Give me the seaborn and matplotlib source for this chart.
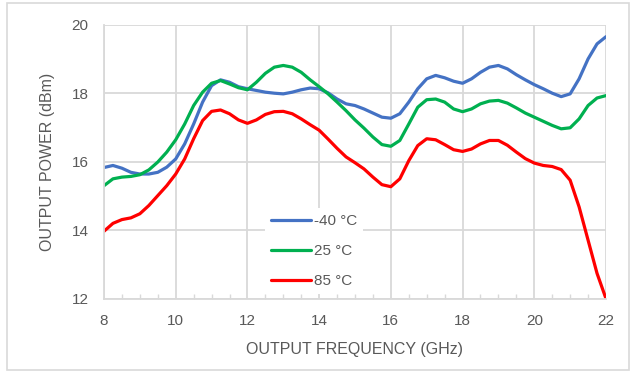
import numpy as np
import pandas as pd
import matplotlib
matplotlib.use("Agg")
import matplotlib.pyplot as plt
import seaborn as sns
from matplotlib.patches import Rectangle

freq = [8.00, 8.25, 8.50, 8.75, 9.00, 9.25, 9.50, 9.75, 10.00, 10.25, 10.50, 10.75,
        11.00, 11.25, 11.50, 11.75, 12.00, 12.25, 12.50, 12.75, 13.00, 13.25, 13.50, 13.75,
        14.00, 14.25, 14.50, 14.75, 15.00, 15.25, 15.50, 15.75, 16.00, 16.25, 16.50, 16.75,
        17.00, 17.25, 17.50, 17.75, 18.00, 18.25, 18.50, 18.75, 19.00, 19.25, 19.50, 19.75,
        20.00, 20.25, 20.50, 20.75, 21.00, 21.25, 21.50, 21.75, 22.00]
p_m40 = [15.83, 15.89, 15.81, 15.69, 15.64, 15.64, 15.69, 15.84, 16.08, 16.52, 17.10, 17.74,
         18.22, 18.39, 18.32, 18.19, 18.13, 18.08, 18.03, 18.00, 17.98, 18.03, 18.10, 18.15,
         18.13, 18.01, 17.83, 17.69, 17.64, 17.54, 17.42, 17.30, 17.27, 17.40, 17.74, 18.13,
         18.42, 18.52, 18.45, 18.35, 18.29, 18.42, 18.61, 18.76, 18.81, 18.71, 18.54, 18.39,
         18.25, 18.13, 18.00, 17.90, 17.98, 18.42, 19.00, 19.44, 19.65]
p_25 = [15.30, 15.50, 15.55, 15.57, 15.62, 15.76, 15.99, 16.28, 16.64, 17.10, 17.64, 18.03,
        18.29, 18.37, 18.27, 18.16, 18.10, 18.32, 18.58, 18.76, 18.81, 18.76, 18.61, 18.39,
        18.19, 17.98, 17.74, 17.49, 17.22, 16.98, 16.72, 16.50, 16.45, 16.62, 17.10, 17.59,
        17.81, 17.83, 17.74, 17.54, 17.46, 17.54, 17.69, 17.77, 17.79, 17.71, 17.57, 17.42,
        17.30, 17.18, 17.06, 16.96, 16.99, 17.25, 17.64, 17.86, 17.93]
p_85 = [13.97, 14.20, 14.31, 14.36, 14.48, 14.72, 15.01, 15.30, 15.64, 16.08, 16.67, 17.20,
        17.47, 17.51, 17.40, 17.22, 17.12, 17.22, 17.38, 17.46, 17.47, 17.40, 17.25, 17.08,
        16.92, 16.66, 16.39, 16.14, 15.97, 15.79, 15.55, 15.33, 15.27, 15.50, 16.03, 16.47,
        16.67, 16.64, 16.50, 16.35, 16.30, 16.37, 16.52, 16.62, 16.62, 16.48, 16.28, 16.09,
        15.96, 15.89, 15.86, 15.77, 15.46, 14.68, 13.71, 12.74, 12.00]
series_names = ["-40 \u00b0C", "25 \u00b0C", "85 \u00b0C"]
colors = ["#4472C4", "#00B050", "#FF0000"]
x_ticks = [8, 10, 12, 14, 16, 18, 20, 22]
y_ticks = [12, 14, 16, 18, 20]

df = pd.concat([
    pd.DataFrame({"freq": freq, "power": vals, "temp": name})
    for name, vals in zip(series_names, [p_m40, p_25, p_85])
])

sns.set_theme(style="white")
plt.rcParams["font.family"] = ["Liberation Sans", "DejaVu Sans"]

fig = plt.figure(figsize=(6.36, 3.73), dpi=100)
ax = fig.add_axes([104 / 636, 1 - 298.7 / 373, (606 - 104) / 636, (298.7 - 24.7) / 373])

sns.lineplot(data=df, x="freq", y="power", hue="temp", palette=dict(zip(series_names, colors)),
             linewidth=2.3, ax=ax, legend=False, sort=False)
for ln in ax.get_lines():
    ln.set_solid_joinstyle("round")
    ln.set_solid_capstyle("round")

grid_c = "#d9d9d9"
ax.set_xlim(8, 22)
ax.set_ylim(12, 20)
ax.set_xticks(x_ticks)
ax.set_yticks(y_ticks)
ax.set_xticks(np.arange(8, 22.01, 0.5), minor=True)
ax.grid(True, which="major", color=grid_c, linewidth=1.3)
ax.set_axisbelow(True)
for s in ["top", "right"]:
    ax.spines[s].set_visible(False)
for s in ["left", "bottom"]:
    ax.spines[s].set_color(grid_c)
    ax.spines[s].set_linewidth(1.3)
ax.tick_params(axis="both", which="major", length=0, labelsize=11, labelcolor="#595959")
ax.tick_params(axis="x", which="major", pad=11)
ax.tick_params(axis="y", which="major", pad=11)
ax.tick_params(axis="x", which="minor", direction="in", length=3.5, width=1, color=grid_c, bottom=True)

ax.set_xlabel("OUTPUT FREQUENCY (GHz)", fontsize=11.5, color="#595959", labelpad=10)
ax.set_ylabel("OUTPUT POWER (dBm)", fontsize=11.5, color="#595959", labelpad=12)

handles = [plt.Line2D([], [], color=c, linewidth=2.3) for c in colors]
leg = ax.legend(handles, series_names, loc="upper left",
                bbox_to_anchor=(265 / 636, 1 - 208 / 373), bbox_transform=fig.transFigure,
                frameon=True, facecolor="white", edgecolor="none", framealpha=1,
                fontsize=11, handlelength=2.6, handletextpad=0.2, labelspacing=1.05,
                borderpad=0.4, borderaxespad=0)
for t in leg.get_texts():
    t.set_color("#595959")

fig.patches.append(Rectangle((7 / 636, 1 - 370 / 373), 622 / 636, 367 / 373,
                             transform=fig.transFigure, fill=False, edgecolor=grid_c, linewidth=1.2))

fig.savefig("out.png", dpi=100)
